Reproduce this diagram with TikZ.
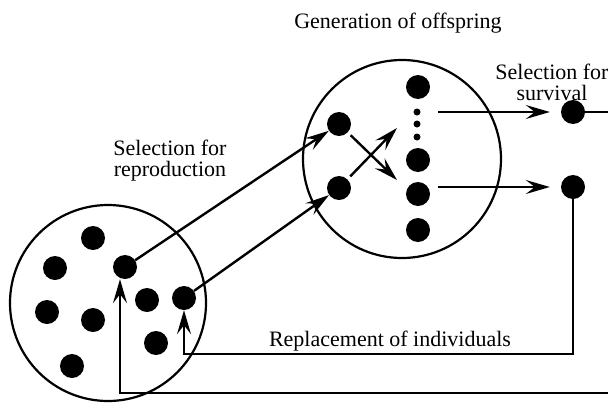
\documentclass[tikz,border=0pt]{standalone}
\usepackage{fontspec}
\setmainfont{Liberation Serif}
\usetikzlibrary{arrows.meta}
\begin{document}
\begin{tikzpicture}[x=1pt,y=-1pt,
  dot/.style={circle,fill=black,draw=none,inner sep=0pt,minimum size=24pt},
  smalldot/.style={circle,fill=black,draw=none,inner sep=0pt,minimum size=7pt},
  pool/.style={draw=black,line width=2.2pt},
  link/.style={line width=2.4pt,-{Stealth[length=24pt,width=14pt,inset=9pt,line width=1.6pt]}},
  plain/.style={line width=2.4pt},
  lbl/.style={font=\fontsize{22}{20.5}\selectfont,inner sep=0pt,align=center,anchor=base}]
\useasboundingbox (0,0) rectangle (608,402);
% populations
\draw[pool] (108,303) circle[radius=98];
\draw[pool] (402,159) circle[radius=99];
% left dots
\node[dot] (l1) at (93,238) {};
\node[dot] (l2) at (55,268) {};
\node[dot] (l3) at (125,267) {};
\node[dot] (l4) at (47,312) {};
\node[dot] (l5) at (93,320) {};
\node[dot] (l6) at (147,300) {};
\node[dot] (l7) at (184,298) {};
\node[dot] (l8) at (156,343) {};
\node[dot] (l9) at (72,366) {};
% middle dots
\node[dot] (m1) at (339,124) {};
\node[dot] (m2) at (339,188) {};
\node[dot] (c1) at (418,87) {};
\node[smalldot] (s1) at (417,112) {};
\node[smalldot] (s2) at (417,124) {};
\node[smalldot] (s3) at (417,137) {};
\node[dot] (c2) at (418,160) {};
\node[dot] (c3) at (418,194) {};
\node[dot] (c4) at (418,230) {};
% right dots
\node[dot] (r1) at (573,112) {};
\node[dot] (r2) at (573,187) {};
% free ends
\coordinate (x1) at (397,180);
\coordinate (x2) at (397,128);
\coordinate (o1) at (438,112);
\coordinate (o2) at (438,187);
\coordinate (e1) at (620,112);
\coordinate (e2) at (620,393);
% selection for reproduction
\draw[link] (l3) -- (m1);
\draw[link] (l7) -- (m2);
% recombination
\draw[link,shorten <=4pt] (m1) -- (x1);
\draw[link,shorten <=4pt] (m2) -- (x2);
% selection for survival
\draw[link,shorten >=11pt] (o1) -- (r1);
\draw[link,shorten >=11pt] (o2) -- (r2);
\draw[plain] (r1) -- (e1);
% replacement
\draw[link] (r2.center) -- (573,354) -- (184,354) -- (l7.south);
\draw[link] (e2) -- (120,393) -- ([xshift=-5pt]l3.south);
% labels
\node[lbl] (t1) at (398,28) {Generation of offspring};
\node[lbl] (t2) at (170,176) {Selection for\\reproduction};
\node[lbl] (t3) at (552,100) {Selection for\\survival};
\node[lbl] (t4) at (390,346) {Replacement of individuals};
\end{tikzpicture}
\end{document}
